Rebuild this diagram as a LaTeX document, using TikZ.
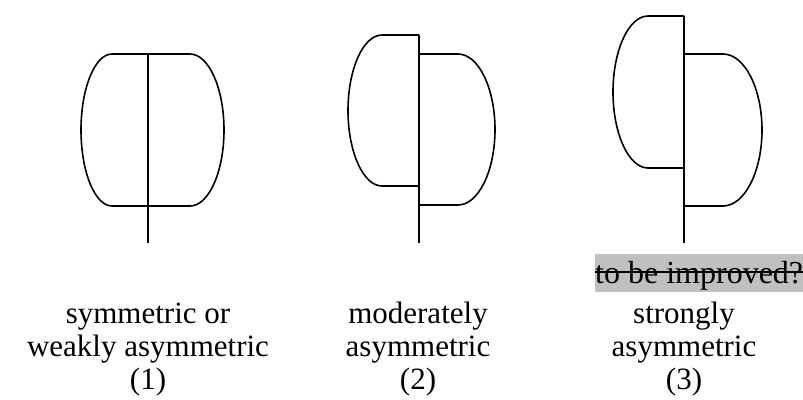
\documentclass[tikz,border=0pt]{standalone}
\usepackage{fontspec}
\setmainfont{Liberation Serif}
\usetikzlibrary{positioning}
\definecolor{tagGrey}{RGB}{192,192,192}
\tikzstyle{outline} = [draw=black, line width=1.6pt, line join=round]
\tikzstyle{axisline} = [draw=black, line width=1.4pt]
\tikzstyle{caption} = [align=center, anchor=base, inner sep=0pt, font=\fontsize{31}{33}\selectfont]
\tikzstyle{greytag} = [fill=tagGrey, anchor=base west, inner xsep=0pt, inner ysep=2pt, text height=27pt, text depth=7pt, font=\fontsize{32}{34}\selectfont]
% one half of a shape: axis x, top y, bottom y, end of flat part, outer x
\newcommand{\lobe}[5]{%
  \draw[outline] (#1,#2) -- (#4,#2)
    .. controls ({#4+0.55*(#5-#4)},#2) and (#5,{#2+0.45*(#3-#2)/2}) .. (#5,{(#2+#3)/2})
    .. controls (#5,{#3-0.45*(#3-#2)/2}) and ({#4+0.55*(#5-#4)},#3) .. (#4,#3) -- (#1,#3);}
\begin{document}
\begin{tikzpicture}[x=1pt, y=-1pt]
    \useasboundingbox (0,0) rectangle (803,399);

    % (1) symmetric
    \lobe{148}{54}{206}{112}{81}
    \lobe{148}{54}{206}{190}{224}
    \draw[axisline] (148,54) -- (148,243);

    % (2) moderately asymmetric
    \lobe{419}{35}{186}{382}{348}
    \lobe{419}{54}{205}{458}{495}
    \draw[axisline] (419,35) -- (419,243);

    % (3) strongly asymmetric
    \lobe{684}{16}{168}{648}{613}
    \lobe{684}{54}{206}{723}{762}
    \draw[axisline] (684,16) -- (684,243);

    % captions (base = last line)
    \node[caption] (cap1) at (148,389) {symmetric or\\weakly asymmetric\\(1)};
    \node[caption] (cap2) at (418,389) {moderately\\asymmetric\\(2)};
    \node[caption] (cap3) at (684,389) {strongly\\asymmetric\\(3)};
    \node[greytag] (tag) at (595,283) {to be improved?};
    \draw[line width=1.5pt] ([yshift=11pt]tag.base west) -- ([yshift=11pt]tag.base east);
\end{tikzpicture}
\end{document}
